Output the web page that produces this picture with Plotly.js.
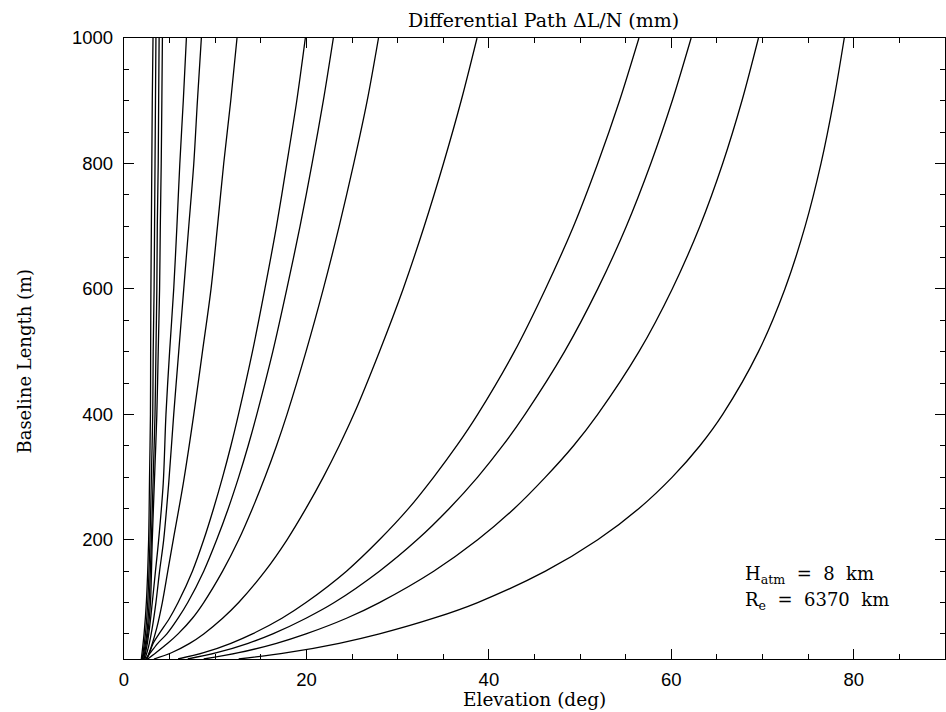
<!DOCTYPE html>
<html>
<head>
<meta charset="utf-8">
<script src="https://cdn.plot.ly/plotly-3.0.1.min.js"></script>
<style>html,body{margin:0;padding:0;background:#fff;}#chart{width:946px;height:712px;}</style>
</head>
<body>
<div id="chart"></div>
<script>
// Baseline length (m) sample points for the lower-path contours
const baselineA = [10, 20, 35, 50, 75, 100, 150, 200, 250, 300, 350, 400, 500, 600, 700, 800, 900, 1000];
// Elevation (deg) read for each contour of differential path dL/N (mm)
const elev250   = [12.57, 17.87, 23.59, 28.0, 33.95, 38.77, 46.2, 51.93, 56.45, 60.1, 63.13, 65.63, 69.55, 72.45, 74.67, 76.41, 77.8, 78.96];
const elev500   = [8.74, 12.57, 16.72, 19.95, 24.39, 28.0, 33.95, 38.77, 42.79, 46.2, 49.28, 51.93, 56.45, 60.1, 63.13, 65.63, 67.74, 69.55];
const elev750   = [6.99, 10.16, 13.61, 16.31, 19.95, 23.05, 28.0, 32.13, 35.66, 38.77, 41.51, 43.96, 48.29, 51.93, 55.07, 57.75, 60.1, 62.17];
const elev1000  = [5.93, 8.74, 11.72, 14.08, 17.31, 19.95, 24.39, 28.0, 31.2, 33.95, 36.48, 38.77, 42.79, 46.2, 49.28, 51.93, 54.32, 56.45];
const elev2500  = [3.28, 5.2, 7.2, 8.74, 10.81, 12.57, 15.46, 17.87, 19.95, 21.85, 23.59, 25.19, 28.0, 30.6, 32.91, 35.02, 36.96, 38.7];
const elev5000  = [2.6, 3.5, 4.79, 5.93, 7.5, 8.74, 10.81, 12.57, 14.08, 15.46, 16.72, 17.87, 19.95, 21.85, 23.59, 25.19, 26.66, 27.9];
const elev7500  = [2.4, 2.9, 3.7, 4.7, 5.93, 6.99, 8.74, 10.16, 11.43, 12.57, 13.61, 14.56, 16.31, 17.85, 19.3, 20.62, 21.85, 22.95];
const elev10000 = [2.5, 2.8, 3.2, 3.84, 4.99, 5.93, 7.5, 8.74, 9.82, 10.81, 11.72, 12.55, 14.08, 15.44, 16.72, 17.85, 18.94, 19.88];

// Baseline sample points for the higher-path contours
const baselineB = [10, 30, 60, 100, 150, 200, 290, 400, 500, 600, 700, 800, 900, 1000];
const elev25000 = [2.5, 3.0, 3.6, 4.2, 4.8, 5.4, 6.5, 7.65, 8.6, 9.54, 10.25, 10.93, 11.7, 12.39];
const elev50000 = [2.3, 2.7, 3.1, 3.5, 3.9, 4.35, 4.9, 5.45, 6.0, 6.55, 7.1, 7.65, 8.05, 8.48];
const elev75000 = [2.2, 2.5, 2.8, 3.1, 3.45, 3.8, 4.3, 4.6, 5.0, 5.45, 5.8, 6.12, 6.5, 6.84];

// Baseline sample points for the dense low-elevation bundle
const baselineC = [10, 50, 100, 200, 300, 400, 500, 600, 700, 800, 900, 1000];
const elevBundle1 = [1.9, 2.2, 2.45, 2.7, 2.8, 2.9, 2.92, 2.95, 3.0, 3.05, 3.1, 3.18];
const elevBundle2 = [2.0, 2.35, 2.6, 2.85, 3.0, 3.15, 3.2, 3.3, 3.35, 3.4, 3.45, 3.5];
const elevBundle3 = [2.05, 2.5, 2.75, 3.0, 3.2, 3.4, 3.5, 3.6, 3.65, 3.75, 3.8, 3.85];
const elevBundle4 = [2.15, 2.6, 2.9, 3.1, 3.35, 3.6, 3.75, 3.9, 3.98, 4.08, 4.15, 4.21];

const xTickVals = [0, 20, 40, 60, 80];
const yTickVals = [200, 400, 600, 800, 1000];

const groups = [
  [baselineA, [elev250, elev500, elev750, elev1000, elev2500, elev5000, elev7500, elev10000]],
  [baselineB, [elev25000, elev50000, elev75000]],
  [baselineC, [elevBundle1, elevBundle2, elevBundle3, elevBundle4]]
];

const traces = [];
groups.forEach(([b, list]) => {
  list.forEach(e => {
    traces.push({
      x: e, y: b, type: 'scatter', mode: 'lines',
      line: {color: '#000', width: 1.3, shape: 'spline', smoothing: 0.9},
      hoverinfo: 'skip', showlegend: false
    });
  });
});

const serif = 'DejaVu Serif, serif';
const sans = 'Liberation Sans, Arial, sans-serif';

const axisCommon = {
  showline: true, linecolor: '#000', linewidth: 1.2, mirror: 'allticks',
  ticks: 'inside', ticklen: 10, tickwidth: 1, tickcolor: '#000',
  showgrid: false, zeroline: false,
  tickfont: {family: sans, size: 18.5, color: '#000'}
};

const layout = {
  width: 946, height: 712,
  paper_bgcolor: '#fff', plot_bgcolor: '#fff',
  margin: {l: 124, r: 1, t: 38, b: 53},
  showlegend: false,
  xaxis: Object.assign({}, axisCommon, {
    range: [0, 90], tickvals: xTickVals, ticktext: xTickVals.map(String),
    minor: {ticks: 'inside', ticklen: 5, dtick: 5, tick0: 0, tickcolor: '#000', showgrid: false},
    ticklabelstandoff: 4
  }),
  yaxis: Object.assign({}, axisCommon, {
    range: [10, 1000], tickvals: yTickVals, ticktext: yTickVals.map(String),
    minor: {ticks: 'inside', ticklen: 5, dtick: 50, tick0: 0, tickcolor: '#000', showgrid: false},
    ticklabelstandoff: 6
  }),
  annotations: [
    {text: 'Differential Path ΔL/N (mm)', xref: 'paper', yref: 'paper', x: 0.511, y: 1.0295,
     xanchor: 'center', yanchor: 'middle', showarrow: false, font: {family: serif, size: 19, color: '#000'}},
    {text: 'Elevation (deg)', xref: 'paper', yref: 'paper', x: 0.5, y: -0.066,
     xanchor: 'center', yanchor: 'middle', showarrow: false, font: {family: serif, size: 18.5, color: '#000'}},
    {text: 'Baseline Length (m)', xref: 'paper', yref: 'paper', x: -0.121, y: 0.48, textangle: -90,
     xanchor: 'center', yanchor: 'middle', showarrow: false, font: {family: serif, size: 18, color: '#000'}},
    {text: 'H<sub>atm</sub>  =  8  km', xref: 'paper', yref: 'paper', x: 0.754, y: 0.136,
     xanchor: 'left', yanchor: 'middle', showarrow: false, font: {family: serif, size: 18, color: '#000'}},
    {text: 'R<sub>e</sub>  =  6370  km', xref: 'paper', yref: 'paper', x: 0.754, y: 0.094,
     xanchor: 'left', yanchor: 'middle', showarrow: false, font: {family: serif, size: 18, color: '#000'}}
  ]
};

Plotly.newPlot('chart', traces, layout, {displayModeBar: false, staticPlot: true});
</script>
</body>
</html>
